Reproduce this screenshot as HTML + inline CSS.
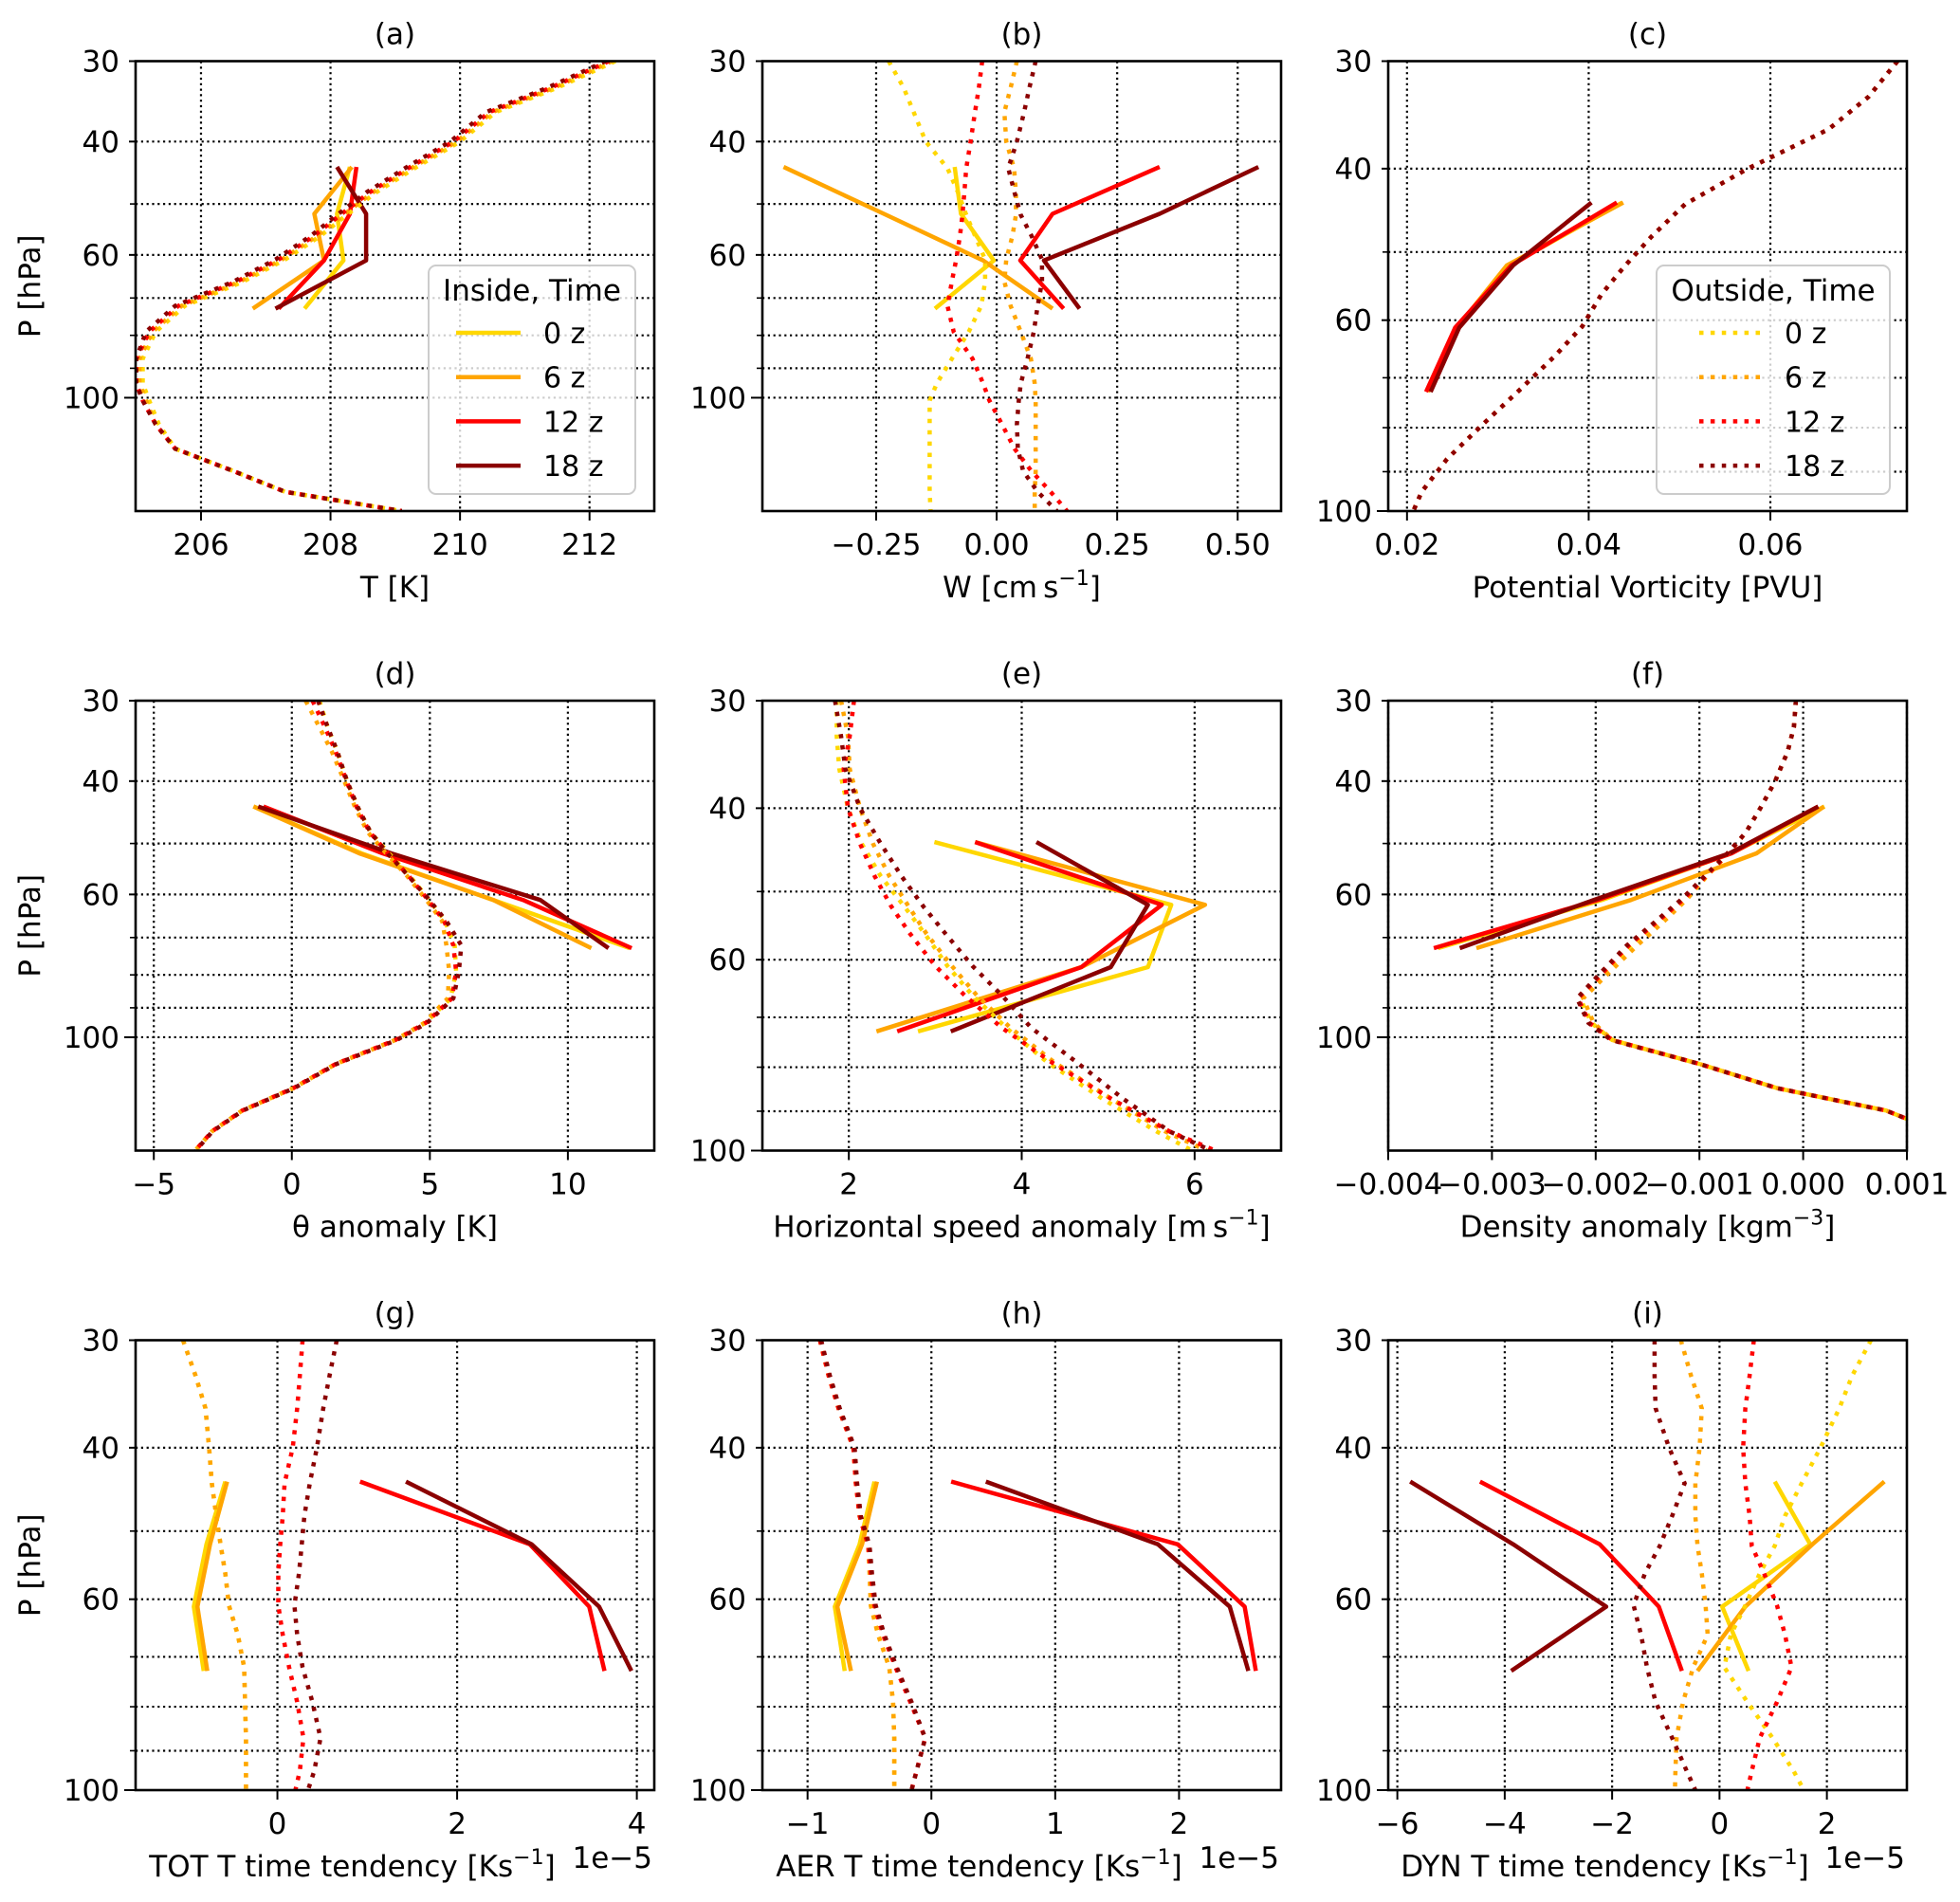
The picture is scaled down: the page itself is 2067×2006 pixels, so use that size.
<!DOCTYPE html>
<html><head><meta charset="utf-8">
<style>
html,body{margin:0;padding:0;background:#fff;}
svg{display:block;}
text{font-family:"DejaVu Sans","Liberation Sans",sans-serif;fill:#000;}
</style></head>
<body>
<svg id="fig" width="2067" height="2006" viewBox="0 0 2067 2006" xmlns="http://www.w3.org/2000/svg"></svg>
<script>
// ---------- pressure levels ----------
const P_IN = [43.8, 51.8, 61.2, 72.7];
const P_OUT150 = [30,33,36,40,44,48,52,56,61,66,72,79,87,95,101,110,120,130,140,150];
const P_OUT100 = [30,33,36,40,44,48,52,56,61,66,72,79,87,95,100];
const Y_TICKS = [30,40,60,100];
const Y_TICK_LABELS = ['30','40','60','100'];
const Y_MINOR = [50,70,80,90];
const TIMES = ['0 z','6 z','12 z','18 z'];

// ---------- (a) temperature ----------
const A_IN_0 = [208.3, 208.1, 208.2, 207.6];
const A_IN_6 = [208.33, 207.75, 207.9, 206.8];
const A_IN_12 = [208.4, 208.3, 207.9, 207.2];
const A_IN_18 = [208.1, 208.55, 208.55, 207.15];
const A_OUT_0 = [212.4,211.5,210.55,210.0,209.3,208.7,208.25,207.85,207.3,206.65,205.75,205.3,205.1,205.1,205.2,205.35,205.6,206.5,207.3,209.1];
const A_OUT_6 = [212.35,211.45,210.5,209.95,209.25,208.65,208.2,207.8,207.25,206.6,205.7,205.25,205.05,205.05,205.15,205.3,205.6,206.5,207.3,209.1];
const A_OUT_12 = [212.3,211.4,210.45,209.9,209.2,208.6,208.15,207.75,207.2,206.55,205.65,205.2,205.0,205.0,205.1,205.3,205.6,206.5,207.3,209.1];
const A_OUT_18 = [212.25,211.35,210.4,209.85,209.15,208.55,208.1,207.7,207.15,206.5,205.6,205.15,205.0,205.0,205.1,205.3,205.6,206.5,207.3,209.1];

// ---------- (b) vertical velocity ----------
const B_IN_0 = [-0.087, -0.074, -0.006, -0.128];
const B_IN_6 = [-0.442, -0.234, -0.028, 0.116];
const B_IN_12 = [0.338, 0.116, 0.049, 0.139];
const B_IN_18 = [0.543, 0.338, 0.098, 0.172];
const B_OUT_0 = [-0.224,-0.193,-0.172,-0.147,-0.102,-0.08,-0.063,-0.045,-0.024,-0.024,-0.032,-0.058,-0.093,-0.124,-0.139,-0.139,-0.139,-0.139,-0.139,-0.137];
const B_OUT_6 = [0.042,0.029,0.016,0.02,0.036,0.04,0.04,0.033,0.02,0.016,0.029,0.05,0.071,0.079,0.081,0.081,0.081,0.081,0.079,0.079];
const B_OUT_12 = [-0.03,-0.037,-0.045,-0.054,-0.063,-0.067,-0.071,-0.076,-0.084,-0.093,-0.102,-0.089,-0.05,-0.028,-0.015,0.011,0.037,0.072,0.112,0.146];
const B_OUT_18 = [0.081,0.068,0.057,0.042,0.024,0.037,0.05,0.072,0.094,0.094,0.085,0.077,0.064,0.05,0.046,0.042,0.044,0.055,0.085,0.125];

// ---------- (c) potential vorticity ----------
const C_IN_0 = [0.0437, 0.0313, 0.0255, 0.0223];
const C_IN_6 = [0.0438, 0.0310, 0.0255, 0.0223];
const C_IN_12 = [0.0431, 0.0315, 0.0253, 0.0221];
const C_IN_18 = [0.0403, 0.0317, 0.02575, 0.0226];
const C_OUT_0 = [0.0740,0.0708,0.0664,0.0575,0.0506,0.0469,0.0439,0.0414,0.0393,0.0363,0.0326,0.0285,0.0244,0.0216,0.0207];
const C_OUT_6 = [0.0740,0.0708,0.0664,0.0575,0.0506,0.0469,0.0439,0.0414,0.0393,0.0363,0.0326,0.0285,0.0244,0.0216,0.0207];
const C_OUT_12 = [0.0740,0.0708,0.0664,0.0575,0.0506,0.0469,0.0439,0.0414,0.0393,0.0363,0.0326,0.0285,0.0244,0.0216,0.0207];
const C_OUT_18 = [0.0740,0.0708,0.0664,0.0575,0.0506,0.0469,0.0439,0.0414,0.0393,0.0363,0.0326,0.0285,0.0244,0.0216,0.0207];

// ---------- (d) theta anomaly ----------
const D_IN_0 = [-1.39, 2.52, 7.3, 12.24];
const D_IN_6 = [-1.39, 2.44, 7.3, 10.85];
const D_IN_12 = [-1.03, 3.29, 8.38, 12.31];
const D_IN_18 = [-1.22, 3.6, 9.0, 11.47];
const D_OUT_0 = [1.0,1.3,1.65,2.0,2.4,2.85,3.55,4.25,4.95,5.55,5.9,5.95,5.75,4.83,3.75,1.59,0.05,-1.8,-2.89,-3.5];
const D_OUT_6 = [0.5,1.0,1.45,1.9,2.3,2.75,3.45,4.15,4.85,5.45,5.6,5.7,5.65,4.8,3.75,1.59,0.05,-1.8,-2.89,-3.5];
const D_OUT_12 = [0.75,1.2,1.59,1.98,2.36,2.82,3.52,4.21,4.91,5.52,5.85,5.95,5.8,4.85,3.75,1.59,0.05,-1.8,-2.89,-3.5];
const D_OUT_18 = [0.95,1.3,1.65,2.0,2.4,2.85,3.5,4.2,4.95,5.6,6.14,6.05,5.85,4.9,3.8,1.62,0.08,-1.78,-2.87,-3.48];

// ---------- (e) horizontal speed anomaly ----------
const E_IN_0 = [2.99, 5.73, 5.46, 2.8];
const E_IN_6 = [3.46, 6.12, 4.69, 2.32];
const E_IN_12 = [3.46, 5.62, 4.69, 2.56];
const E_IN_18 = [4.17, 5.46, 5.03, 3.18];
const E_OUT_0 = [1.86,1.86,1.89,1.99,2.15,2.37,2.64,2.88,3.14,3.43,3.82,4.3,4.93,5.56,5.97];
const E_OUT_6 = [1.91,1.99,2.01,2.13,2.28,2.47,2.69,2.9,3.19,3.48,3.87,4.38,5.03,5.66,6.14];
const E_OUT_12 = [2.06,2.01,1.94,1.99,2.13,2.3,2.49,2.71,3.0,3.34,3.77,4.35,5.03,5.71,6.24];
const E_OUT_18 = [1.84,1.91,1.96,2.13,2.37,2.61,2.86,3.12,3.43,3.77,4.11,4.64,5.17,5.71,6.19];

// ---------- (f) density anomaly ----------
const F_IN_0 = [0.000206, -0.000694, -0.00194, -0.00352];
const F_IN_6 = [0.0002, -0.00045, -0.00166, -0.00315];
const F_IN_12 = [0.000145, -0.00069, -0.00198, -0.00356];
const F_IN_18 = [0.000145, -0.00071, -0.00202, -0.00331];
const F_OUT_0 = [-0.00007,-0.00009,-0.00015,-0.00027,-0.00041,-0.00055,-0.00073,-0.00092,-0.00114,-0.00138,-0.00166,-0.0019,-0.00215,-0.00204,-0.00184,-0.001,-0.00025,0.0008,0.0013,0.0016];
const F_OUT_6 = [-0.00007,-0.00009,-0.00015,-0.00027,-0.00041,-0.00055,-0.00073,-0.00092,-0.00112,-0.00134,-0.0016,-0.00186,-0.00212,-0.00202,-0.00184,-0.001,-0.00025,0.0008,0.0013,0.0016];
const F_OUT_12 = [-0.00007,-0.00009,-0.00015,-0.00027,-0.00041,-0.00055,-0.00073,-0.00093,-0.00115,-0.0014,-0.00168,-0.00192,-0.00217,-0.00206,-0.00184,-0.001,-0.00025,0.0008,0.0013,0.0016];
const F_OUT_18 = [-0.00007,-0.00009,-0.00015,-0.00027,-0.00041,-0.00055,-0.00074,-0.00094,-0.00117,-0.00142,-0.0017,-0.00194,-0.00218,-0.00207,-0.00185,-0.001,-0.00025,0.0008,0.0013,0.0016];

// ---------- (g) TOT tendency (1e-5) ----------
const G_IN_0 = [-0.58, -0.79, -0.93, -0.82];
const G_IN_6 = [-0.56, -0.75, -0.89, -0.78];
const G_IN_12 = [0.92, 2.81, 3.47, 3.64];
const G_IN_18 = [1.43, 2.83, 3.58, 3.94];
const G_OUT_0 = [-1.05,-0.91,-0.8,-0.76,-0.73,-0.68,-0.63,-0.58,-0.54,-0.44,-0.37,-0.36,-0.35,-0.35,-0.35];
const G_OUT_6 = [-1.05,-0.91,-0.8,-0.76,-0.73,-0.68,-0.63,-0.58,-0.54,-0.44,-0.37,-0.36,-0.35,-0.35,-0.35];
const G_OUT_12 = [0.28,0.25,0.22,0.17,0.08,0.06,0.03,0.01,0.01,0.06,0.13,0.22,0.29,0.25,0.2];
const G_OUT_18 = [0.66,0.58,0.51,0.44,0.36,0.3,0.27,0.24,0.19,0.22,0.28,0.39,0.48,0.41,0.34];

// ---------- (h) AER tendency (1e-5) ----------
const H_IN_0 = [-0.46, -0.58, -0.78, -0.7];
const H_IN_6 = [-0.44, -0.56, -0.76, -0.65];
const H_IN_12 = [0.16, 1.99, 2.53, 2.62];
const H_IN_18 = [0.44, 1.83, 2.41, 2.56];
const H_OUT_0 = [-0.9,-0.83,-0.75,-0.63,-0.61,-0.58,-0.51,-0.49,-0.49,-0.43,-0.34,-0.31,-0.3,-0.3,-0.3];
const H_OUT_6 = [-0.9,-0.83,-0.75,-0.63,-0.61,-0.58,-0.51,-0.5,-0.49,-0.43,-0.34,-0.31,-0.3,-0.3,-0.3];
const H_OUT_12 = [-0.9,-0.83,-0.75,-0.63,-0.61,-0.58,-0.51,-0.49,-0.46,-0.39,-0.29,-0.17,-0.05,-0.12,-0.16];
const H_OUT_18 = [-0.89,-0.82,-0.74,-0.62,-0.6,-0.57,-0.5,-0.48,-0.45,-0.38,-0.28,-0.16,-0.05,-0.12,-0.16];

// ---------- (i) DYN tendency (1e-5) ----------
const I_IN_0 = [1.03, 1.69, 0.05, 0.54];
const I_IN_6 = [3.07, 1.73, 0.48, -0.41];
const I_IN_12 = [-4.46, -2.23, -1.13, -0.7];
const I_IN_18 = [-5.76, -3.84, -2.11, -3.88];
const I_OUT_0 = [2.82,2.47,2.23,1.88,1.53,1.22,1.03,0.75,0.48,0.21,0.09,0.52,0.99,1.38,1.57];
const I_OUT_6 = [-0.72,-0.53,-0.33,-0.37,-0.45,-0.45,-0.41,-0.33,-0.26,-0.22,-0.49,-0.68,-0.8,-0.82,-0.83];
const I_OUT_12 = [0.64,0.56,0.48,0.44,0.48,0.56,0.6,0.83,1.07,1.22,1.34,1.07,0.75,0.6,0.52];
const I_OUT_18 = [-1.21,-1.21,-1.19,-0.94,-0.65,-0.88,-1.11,-1.39,-1.6,-1.46,-1.35,-1.19,-0.88,-0.61,-0.45];

// ---------- x-axis ticks ----------
const A_XT = [206,208,210,212];
const A_XL = ['206','208','210','212'];
const B_XT = [-0.25,0,0.25,0.5];
const B_XL = ['\u22120.25','0.00','0.25','0.50'];
const C_XT = [0.02,0.04,0.06];
const C_XL = ['0.02','0.04','0.06'];
const D_XT = [-5,0,5,10];
const D_XL = ['\u22125','0','5','10'];
const E_XT = [2,4,6];
const E_XL = ['2','4','6'];
const F_XT = [-0.004,-0.003,-0.002,-0.001,0,0.001];
const F_XL = ['\u22120.004','\u22120.003','\u22120.002','\u22120.001','0.000','0.001'];
const G_XT = [0,2,4];
const G_XL = ['0','2','4'];
const H_XT = [-1,0,1,2];
const H_XL = ['\u22121','0','1','2'];
const I_XT = [-6,-4,-2,0,2];
const I_XL = ['\u22126','\u22124','\u22122','0','2'];

const COLORS = ['#FFD700','#FFA500','#FF0000','#8B0000'];
const NS = 'http://www.w3.org/2000/svg';
const svg = document.getElementById('fig');
const FS = 31;

function mk(tag, attrs, parent){
  const e = document.createElementNS(NS, tag);
  for (const k in attrs) e.setAttribute(k, attrs[k]);
  (parent||svg).appendChild(e);
  return e;
}

const COL_L = [143, 804, 1464];
const ROW_T = [64.5, 739, 1413.5];
const AW = 547, AH = 474.5;

const PANELS = [
  {id:'a', col:0,row:0, xlim:[204.99,213.0], pmax:150, xt:A_XT, xl:A_XL, label:['T [K]'], ins:[A_IN_0,A_IN_6,A_IN_12,A_IN_18], outs:[A_OUT_0,A_OUT_6,A_OUT_12,A_OUT_18], legend:'in'},
  {id:'b', col:1,row:0, xlim:[-0.486,0.59], pmax:150, xt:B_XT, xl:B_XL, label:['W [cm\u2009s','\u22121',']'], ins:[B_IN_0,B_IN_6,B_IN_12,B_IN_18], outs:[B_OUT_0,B_OUT_6,B_OUT_12,B_OUT_18]},
  {id:'c', col:2,row:0, xlim:[0.01793,0.07503], pmax:100, xt:C_XT, xl:C_XL, label:['Potential Vorticity [PVU]'], ins:[C_IN_0,C_IN_6,C_IN_12,C_IN_18], outs:[C_OUT_0,C_OUT_6,C_OUT_12,C_OUT_18], legend:'out'},
  {id:'d', col:0,row:1, xlim:[-5.66,13.13], pmax:150, xt:D_XT, xl:D_XL, label:['\u03B8 anomaly [K]'], ins:[D_IN_0,D_IN_6,D_IN_12,D_IN_18], outs:[D_OUT_0,D_OUT_6,D_OUT_12,D_OUT_18]},
  {id:'e', col:1,row:1, xlim:[1.0,7.0], pmax:100, xt:E_XT, xl:E_XL, label:['Horizontal speed anomaly [m\u2009s','\u22121',']'], ins:[E_IN_0,E_IN_6,E_IN_12,E_IN_18], outs:[E_OUT_0,E_OUT_6,E_OUT_12,E_OUT_18]},
  {id:'f', col:2,row:1, xlim:[-0.004,0.001], pmax:150, xt:F_XT, xl:F_XL, label:['Density anomaly [kgm','\u22123',']'], ins:[F_IN_0,F_IN_6,F_IN_12,F_IN_18], outs:[F_OUT_0,F_OUT_6,F_OUT_12,F_OUT_18]},
  {id:'g', col:0,row:2, xlim:[-1.578,4.194], pmax:100, xt:G_XT, xl:G_XL, label:['TOT T time tendency [Ks','\u22121',']'], ins:[G_IN_0,G_IN_6,G_IN_12,G_IN_18], outs:[G_OUT_0,G_OUT_6,G_OUT_12,G_OUT_18], off:true},
  {id:'h', col:1,row:2, xlim:[-1.365,2.824], pmax:100, xt:H_XT, xl:H_XL, label:['AER T time tendency [Ks','\u22121',']'], ins:[H_IN_0,H_IN_6,H_IN_12,H_IN_18], outs:[H_OUT_0,H_OUT_6,H_OUT_12,H_OUT_18], off:true},
  {id:'i', col:2,row:2, xlim:[-6.17,3.49], pmax:100, xt:I_XT, xl:I_XL, label:['DYN T time tendency [Ks','\u22121',']'], ins:[I_IN_0,I_IN_6,I_IN_12,I_IN_18], outs:[I_OUT_0,I_OUT_6,I_OUT_12,I_OUT_18], off:true}
];

PANELS.forEach(function(pn){
  const L = COL_L[pn.col], T = ROW_T[pn.row], R = L+AW, B = T+AH;
  const g = mk('g', {});
  
  
  const sx = v => L + (v - pn.xlim[0]) / (pn.xlim[1]-pn.xlim[0]) * AW;
  const sy = p => T + Math.log(p/30) / Math.log(pn.pmax/30) * AH;

  const cp = mk('clipPath', {id:'clip-'+pn.id}, g);
  mk('rect', {x:L, y:T, width:AW, height:AH}, cp);

  const grid = mk('g', {stroke:'#000','stroke-width':2.2,'stroke-dasharray':'2.2 3.6'}, g);
  
  
  pn.xt.forEach(function(v){ const x=sx(v); mk('line',{x1:x,x2:x,y1:T,y2:B},grid); });
  Y_TICKS.concat(Y_MINOR).forEach(function(p){ if(p>30 && p<pn.pmax){ const y=sy(p); mk('line',{x1:L,x2:R,y1:y,y2:y},grid);} });

  const sg = mk('g', {'clip-path':'url(#clip-'+pn.id+')', fill:'none'}, g);
  const pOut = pn.pmax===150 ? P_OUT150 : P_OUT100;
  pn.ins.forEach(function(arr, k){
    const d = arr.map((v,i)=>(i?'L':'M')+sx(v).toFixed(1)+' '+sy(P_IN[i]).toFixed(1)).join(' ');
    const el = mk('path', {d:d, stroke:COLORS[k], 'stroke-width':4.5, 'stroke-linejoin':'round'}, sg);
    
    
  });
  pn.outs.forEach(function(arr, k){
    const d = arr.map((v,i)=>(i?'L':'M')+sx(v).toFixed(1)+' '+sy(pOut[i]).toFixed(1)).join(' ');
    const el = mk('path', {d:d, stroke:COLORS[k], 'stroke-width':4.5, 'stroke-dasharray':'4.5 7.4'}, sg);
    
    
  });

  const fr = mk('rect', {x:L, y:T, width:AW, height:AH, fill:'none', stroke:'#000', 'stroke-width':2.6}, g);
  
  

  pn.xt.forEach(function(v, i){
    const x = sx(v);
    mk('line', {x1:x, x2:x, y1:B, y2:B+10, stroke:'#000','stroke-width':2}, g);
    const t = mk('text', {x:x, y:B+46, 'font-size':FS, 'text-anchor':'middle'}, g);
    t.textContent = pn.xl[i];
    
    
  });
  Y_TICKS.forEach(function(p, i){
    const y = sy(p);
    mk('line', {x1:L-(p===100?12:7), x2:L, y1:y, y2:y, stroke:'#000','stroke-width':2}, g);
    const t = mk('text', {x:L-17, y:y+11, 'font-size':FS, 'text-anchor':'end'}, g);
    t.textContent = Y_TICK_LABELS[i];
    
    
  });
  Y_MINOR.forEach(function(p){ if(p<pn.pmax){ const y=sy(p); mk('line',{x1:L-6,x2:L,y1:y,y2:y,stroke:'#000','stroke-width':1.6},g);} });

  const ti = mk('text', {x:L+AW/2, y:T-18, 'font-size':FS, 'text-anchor':'middle'}, g);
  ti.textContent = '(' + pn.id + ')';
  
  

  const xlx = L + AW/2 - (pn.off ? 45 : 0);
  const xl = mk('text', {x:xlx, y:B+91, 'font-size':FS, 'text-anchor':'middle'}, g);
  
  
  if (pn.label.length === 1) { xl.textContent = pn.label[0]; }
  else {
    mk('tspan', {}, xl).textContent = pn.label[0];
    mk('tspan', {dy:-13, 'font-size':22}, xl).textContent = pn.label[1];
    mk('tspan', {dy:13}, xl).textContent = pn.label[2];
  }
  if (pn.off) {
    const o = mk('text', {x:R-2, y:B+82, 'font-size':FS, 'text-anchor':'end'}, g);
    o.textContent = '1e\u22125';
    
    
  }
  if (pn.col === 0) {
    const yl = mk('text', {x:0, y:0, 'font-size':FS, 'text-anchor':'middle', transform:'translate(42,'+(T+AH/2)+') rotate(-90)'}, g);
    yl.textContent = 'P [hPa]';
    
    
  }

  if (pn.legend) {
    const isIn = pn.legend === 'in';
    const bx = isIn ? 452 : 1747, bw = isIn ? 218 : 246;
    const lg = mk('g', {}, g);
    
    
    mk('rect', {x:bx, y:280, width:bw, height:241, rx:8, fill:'#fff', 'fill-opacity':0.8, stroke:'#cccccc', 'stroke-width':2}, lg);
    const tt = mk('text', {x:bx+bw/2, y:317, 'font-size':31, 'text-anchor':'middle'}, lg);
    tt.textContent = isIn ? 'Inside, Time' : 'Outside, Time';
    
    
    TIMES.forEach(function(lbl, k){
      const y = 351 + k*46.7;
      const x1 = isIn ? 481 : 1792, x2 = isIn ? 549 : 1856, tx = isIn ? 573 : 1882;
      const ln = mk('line', {x1:x1, x2:x2, y1:y, y2:y, stroke:COLORS[k], 'stroke-width':4.5}, lg);
      if (!isIn) ln.setAttribute('stroke-dasharray', '4.5 7.4');
      
      
      const t = mk('text', {x:tx, y:y+11, 'font-size':30}, lg);
      t.textContent = lbl;
      
      
    });
  }
});
</script>
</body></html>
